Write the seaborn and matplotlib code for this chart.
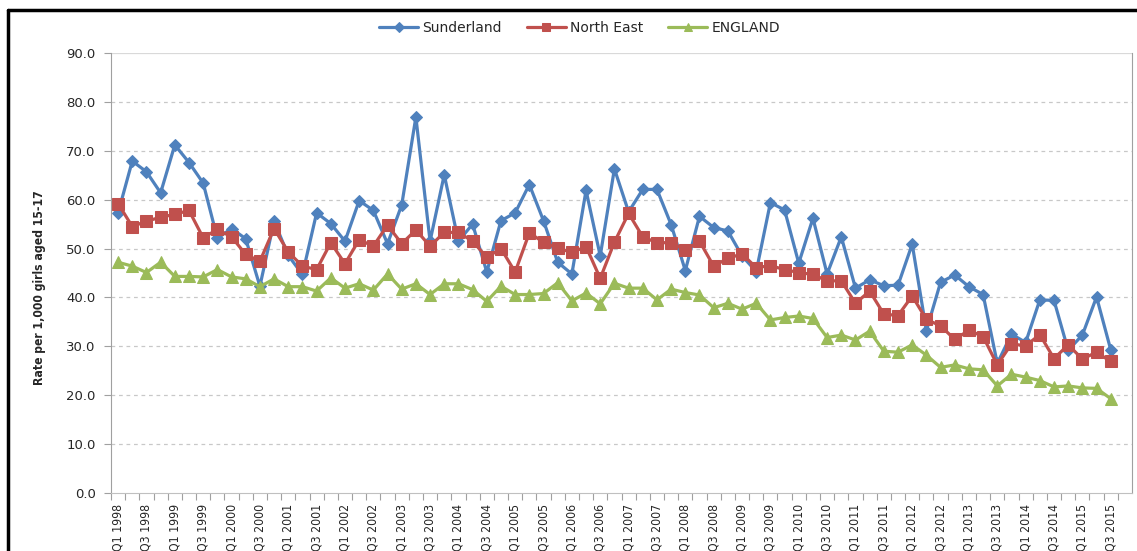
import numpy as np
import pandas as pd
import matplotlib.pyplot as plt
import seaborn as sns
from matplotlib.lines import Line2D
from matplotlib import font_manager

# Quarter labels Q1 1998 .. Q3 2015
quarters = [f"Q{q} {y}" for y in range(1998, 2016) for q in range(1, 5)][:71]

sunderland = [57.3, 67.9, 65.7, 61.4, 71.2, 67.6, 63.4, 52.1, 54.1, 52.0,
              42.3, 55.6, 48.6, 44.7, 57.3, 55.1, 51.5, 59.8, 57.8, 51.0,
              58.9, 76.9, 51.5, 65.1, 51.5, 55.0, 45.2, 55.7, 57.3, 63.1,
              55.7, 47.2, 44.8, 61.9, 48.5, 66.3, 57.5, 62.1, 62.1, 54.9,
              45.5, 56.6, 54.3, 53.6, 48.5, 45.3, 59.4, 57.9, 47.0, 56.2,
              44.8, 52.4, 41.9, 43.6, 42.4, 42.5, 50.9, 33.2, 43.1, 44.6,
              42.2, 40.6, 26.5, 32.5, 30.8, 39.5, 39.4, 29.2, 32.3, 40.1,
              29.3]

north_east = [59.2, 54.5, 55.6, 56.4, 57.0, 57.8, 52.2, 53.9, 52.4, 48.8,
              47.4, 54.1, 49.3, 46.4, 45.7, 51.2, 46.9, 51.8, 50.5, 54.8,
              51.0, 53.8, 50.5, 53.3, 53.3, 51.5, 48.2, 50.0, 45.2, 53.2,
              51.3, 50.1, 49.2, 50.4, 43.9, 51.3, 57.2, 52.4, 51.2, 51.2,
              49.7, 51.5, 46.4, 48.0, 48.9, 46.1, 46.5, 45.7, 45.1, 44.7,
              43.4, 43.4, 38.8, 41.3, 36.6, 36.3, 40.3, 35.5, 34.2, 31.4,
              33.3, 32.0, 26.2, 30.5, 30.1, 32.4, 27.5, 30.3, 27.4, 28.8,
              26.9]

england = [47.2, 46.4, 45.1, 47.2, 44.3, 44.3, 44.2, 45.7, 44.2, 43.8,
           42.2, 43.8, 42.2, 42.2, 41.3, 44.0, 41.9, 42.8, 41.5, 44.8,
           41.7, 42.8, 40.6, 42.8, 42.8, 41.6, 39.2, 42.3, 40.6, 40.6,
           40.8, 43.0, 39.3, 40.9, 38.7, 42.9, 41.9, 41.9, 39.5, 41.7,
           41.0, 40.5, 37.9, 38.8, 37.6, 38.8, 35.4, 35.9, 36.2, 35.7,
           31.8, 32.3, 31.3, 33.1, 29.0, 28.8, 30.3, 28.2, 25.7, 26.2,
           25.4, 25.2, 21.9, 24.3, 23.7, 23.0, 21.7, 21.9, 21.5, 21.4,
           19.3]

series_names = ["Sunderland", "North East", "ENGLAND"]
colors = {"Sunderland": "#4F81BD", "North East": "#C0504D", "ENGLAND": "#9BBB59"}
markers = {"Sunderland": "D", "North East": "s", "ENGLAND": "^"}
sizes = {"Sunderland": 6.5, "North East": 8, "ENGLAND": 8}

df = pd.DataFrame({
    "idx": np.tile(np.arange(len(quarters)), 3),
    "rate": sunderland + north_east + england,
    "area": np.repeat(series_names, len(quarters)),
})

installed = {f.name for f in font_manager.fontManager.ttflist}
if "Liberation Sans Narrow" in installed:
    narrow_kw = dict(family="Liberation Sans Narrow")
else:
    narrow_kw = dict(family="DejaVu Sans", fontstretch="condensed")

sns.set_style("white")
fig = plt.figure(figsize=(11.37, 5.51), dpi=100)
ax = fig.add_axes([111 / 1137, 1 - 493 / 551, (1132 - 111) / 1137, (493 - 53) / 551])

for name in series_names:
    sub = df[df["area"] == name]
    sns.lineplot(data=sub, x="idx", y="rate", ax=ax, color=colors[name],
                 marker=markers[name], markersize=sizes[name],
                 markeredgecolor=colors[name], linewidth=2.3, label=name)

ax.set_ylim(0, 90)
ax.set_yticks(np.arange(0, 91, 10))
ax.set_yticklabels([f"{v:.1f}" for v in np.arange(0, 91, 10)],
                   fontsize=9.5, color="#262626", family="DejaVu Sans")
ax.set_xlim(-0.5, 71.5)

# labels every other quarter, ticks at category boundaries
ax.set_xticks(np.arange(0, len(quarters), 2))
ax.set_xticklabels(quarters[::2], rotation=90, fontsize=8.8, color="#262626",
                   **narrow_kw)
ax.set_xticks(np.arange(-0.5, len(quarters), 1), minor=True)
ax.tick_params(axis="x", which="major", length=0, pad=8)
ax.tick_params(axis="x", which="minor", length=5, color="#A0A0A0", width=0.8,
               direction="out", bottom=True)
ax.tick_params(axis="y", length=5, color="#A0A0A0", width=0.8, pad=6,
               direction="out", left=True)

for v in np.arange(10, 90, 10):
    ax.axhline(v, color="#C8C8C8", linestyle=(0, (3, 3)), linewidth=0.9, zorder=0)
ax.axhline(90, color="#D9D9D9", linewidth=1.6, zorder=0)

ax.spines["top"].set_visible(False)
ax.spines["left"].set_color("#A0A0A0")
ax.spines["bottom"].set_color("#C0C0C0")
ax.spines["right"].set_color("#A0A0A0")

ax.set_xlabel("")
ax.set_ylabel("Rate per 1,000 girls aged 15-17", fontsize=8.7, fontweight="bold",
              **narrow_kw)
ax.yaxis.set_label_coords(-0.064, 0.466)

ax.legend(loc="center", bbox_to_anchor=(0.459, 1.057), ncol=3, frameon=False,
          prop={"family": "DejaVu Sans", "size": 10}, handlelength=2.8,
          columnspacing=1.8, handletextpad=0.3, markerscale=0.75)

# black frame on the left and top
fig.add_artist(Line2D([8 / 1137, 8 / 1137], [0, 1 - 10 / 551], color="black", lw=2.5))
fig.add_artist(Line2D([8 / 1137, 1], [1 - 10 / 551, 1 - 10 / 551], color="black", lw=2.5))

plt.savefig("out.png", dpi=100)
